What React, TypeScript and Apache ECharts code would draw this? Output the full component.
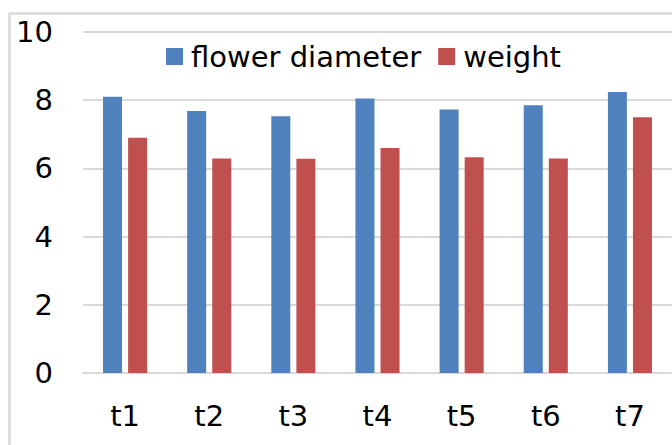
import React, { useEffect, useRef } from "react";
import * as echarts from "echarts";

const categories = ["t1", "t2", "t3", "t4", "t5", "t6", "t7"];
const flowerDiameter = [8.1, 7.68, 7.53, 8.05, 7.73, 7.85, 8.24];
const weight = [6.9, 6.29, 6.28, 6.6, 6.33, 6.29, 7.5];
const seriesNames = ["flower diameter", "weight"];
const yTicks = { min: 0, max: 10, interval: 2 };

const FONT = "DejaVu Sans";

export default function App() {
  const ref = useRef<HTMLDivElement>(null);
  useEffect(() => {
    if (!ref.current) return;
    const chart = echarts.init(ref.current, undefined, { renderer: "svg" });
    chart.setOption({
      animation: false,
      backgroundColor: "#ffffff",
      graphic: [
        {
          type: "rect",
          shape: { x: 9.5, y: 13.5, width: 760, height: 520 },
          style: { fill: "none", stroke: "#d9d9d9", lineWidth: 2.5 },
          silent: true,
          z: 0,
        },
      ],
      legend: {
        left: 161,
        top: 37,
        itemWidth: 17,
        itemHeight: 17,
        itemGap: 17,
        icon: "rect",
        textStyle: {
          fontFamily: FONT,
          fontSize: 29,
          color: "#000",
          padding: [0, 0, 0, 3],
        },
        data: seriesNames,
      },
      grid: { left: 83, top: 32, width: 597.5, height: 341 },
      xAxis: {
        type: "category",
        data: categories,
        axisLine: { lineStyle: { color: "#d9d9d9", width: 2 } },
        axisTick: { show: false },
        axisLabel: { fontFamily: FONT, fontSize: 29, color: "#000", margin: 28 },
      },
      yAxis: {
        type: "value",
        min: yTicks.min,
        max: yTicks.max,
        interval: yTicks.interval,
        axisLine: { show: false },
        axisTick: { show: false },
        splitLine: { lineStyle: { color: "#d9d9d9", width: 2 } },
        axisLabel: { fontFamily: FONT, fontSize: 29, color: "#000", margin: 30 },
      },
      series: [
        {
          name: seriesNames[0],
          type: "bar",
          data: flowerDiameter,
          barWidth: 19,
          barGap: "32%",
          itemStyle: { color: "#4F81BD" },
        },
        {
          name: seriesNames[1],
          type: "bar",
          data: weight,
          barWidth: 19,
          itemStyle: { color: "#C0504D" },
        },
      ],
    });
    return () => chart.dispose();
  }, []);
  return (
    <div
      ref={ref}
      style={{ position: "fixed", left: 0, top: 0, width: 672, height: 445 }}
    />
  );
}
